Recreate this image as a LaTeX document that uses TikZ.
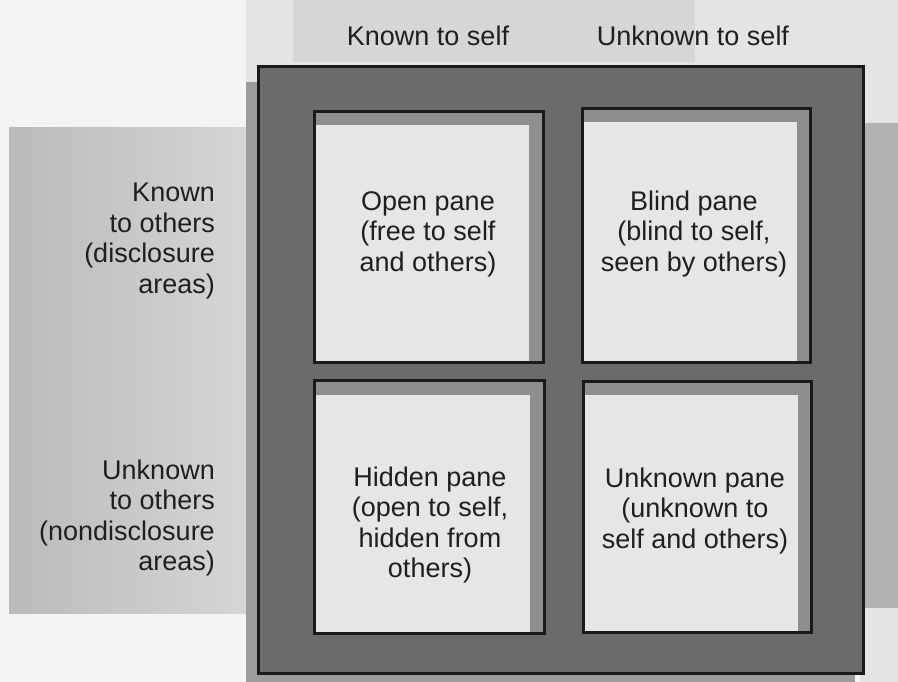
\documentclass[tikz,border=0pt]{standalone}
\usepackage{fontspec}
\setmainfont{Liberation Sans}
\definecolor{paper}{HTML}{F4F4F4}
\definecolor{paperdim}{HTML}{E4E4E4}
\definecolor{topband}{HTML}{D6D6D6}
\definecolor{leftdark}{HTML}{BABABA}
\definecolor{leftlight}{HTML}{D6D6D6}
\definecolor{rightband}{HTML}{B2B2B2}
\definecolor{shadowgray}{HTML}{9C9C9C}
\definecolor{framegray}{HTML}{6B6B6B}
\definecolor{panegray}{HTML}{8E8E8E}
\definecolor{glass}{HTML}{E6E6E6}
\definecolor{edge}{HTML}{1A1A1A}
\newcommand\drawjpane[4]{%
  \fill[panegray] (#1,#2) rectangle (#3,#4);
  \fill[glass] (#1,#4) rectangle ({#3-14},{#2+14});
  \draw[edgeline] (#1,#2) rectangle (#3,#4);
}
\begin{document}
\begin{tikzpicture}[x=1pt,y=-1pt,
  edgeline/.style={draw=edge,line width=3pt},
  lbl/.style={font=\fontsize{27}{30.5}\selectfont,align=center,inner sep=0pt,text=black!88},
  sidelbl/.style={lbl,align=right,anchor=east}]
\useasboundingbox (0,0) rectangle (898,682);
% page background
\fill[paper] (0,0) rectangle (898,682);
\fill[paperdim] (246,0) rectangle (898,123);
\fill[topband] (293,0) rectangle (695,62);
\shade[left color=leftdark,right color=leftlight] (9,128) rectangle (250,613);
\fill[rightband] (860,123) rectangle (898,608);
\fill[paperdim] (860,608) rectangle (898,682);
% shadow and frame
\fill[shadowgray] (246,82) rectangle (855,682);
\filldraw[fill=framegray,edgeline] (258.5,66.5) rectangle (863.5,673.5);
% panes
\drawjpane{314.5}{111.5}{543}{362}
\drawjpane{582}{108.5}{810.5}{362}
\drawjpane{314.5}{380.5}{544}{633}
\drawjpane{583.5}{381}{811.5}{632.5}
% column headings
\node[lbl] (ks) at (428,36) {Known to self};
\node[lbl] (us) at (693,36) {Unknown to self};
% row headings
\node[sidelbl] (ko) at (215,241) {Known\\to others\\(disclosure\\areas)};
\node[sidelbl] (uo) at (215,518) {Unknown\\to others\\(nondisclosure\\areas)};
% pane texts
\node[lbl] (open) at (428,234) {Open pane\\(free to self\\and others)};
\node[lbl] (blind) at (694,234) {Blind pane\\(blind to self,\\seen by others)};
\node[lbl] (hidden) at (430,525) {Hidden pane\\(open to self,\\hidden from\\others)};
\node[lbl] (unknown) at (695,511) {Unknown pane\\(unknown to\\self and others)};
\end{tikzpicture}
\end{document}
